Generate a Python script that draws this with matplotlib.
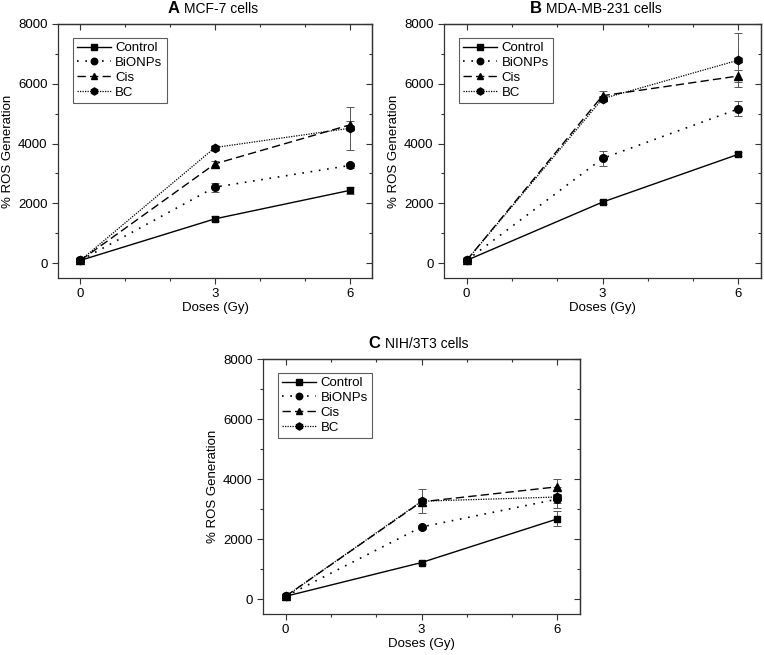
import matplotlib
matplotlib.use("Agg")
import matplotlib.pyplot as plt
from matplotlib.ticker import MultipleLocator

plt.rcParams['font.family'] = ['Liberation Sans', 'DejaVu Sans']

doses = [0, 3, 6]
groups = ["Control", "BiONPs", "Cis", "BC"]

# panel A - MCF-7
mcf_mean = {
    "Control": [90, 1480, 2430],
    "BiONPs": [90, 2540, 3265],
    "Cis": [90, 3320, 4620],
    "BC": [90, 3866, 4510],
}
mcf_err = {
    "Control": [40, 80, 120],
    "BiONPs": [40, 150, 80],
    "Cis": [40, 80, 150],
    "BC": [40, 60, 725],
}

# panel B - MDA-MB-231
mda_mean = {
    "Control": [90, 2040, 3640],
    "BiONPs": [90, 3500, 5160],
    "Cis": [90, 5600, 6260],
    "BC": [90, 5500, 6790],
}
mda_err = {
    "Control": [40, 60, 70],
    "BiONPs": [40, 240, 250],
    "Cis": [40, 170, 200],
    "BC": [40, 80, 900],
}

# panel C - NIH/3T3
nih_mean = {
    "Control": [90, 1215, 2670],
    "BiONPs": [90, 2400, 3330],
    "Cis": [90, 3240, 3740],
    "BC": [90, 3260, 3400],
}
nih_err = {
    "Control": [40, 60, 250],
    "BiONPs": [40, 80, 120],
    "Cis": [40, 100, 250],
    "BC": [40, 400, 350],
}

styles = {
    "Control": dict(ls="-", marker="s", ms=5, lw=1.0),
    "BiONPs": dict(ls=(0, (1, 4)), marker="o", ms=5.5, lw=1.2),
    "Cis": dict(ls=(0, (6, 3)), marker="^", ms=5.5, lw=1.0),
    "BC": dict(ls=(0, (1, 1)), marker="h", ms=6, lw=0.9),
}

panels = [
    ("A", "MCF-7 cells", mcf_mean, mcf_err, [58, 24, 372, 278], 0.35),
    ("B", "MDA-MB-231 cells", mda_mean, mda_err, [444, 24, 761, 278], 0.27),
    ("C", "NIH/3T3 cells", nih_mean, nih_err, [263, 359, 580, 614], 0.333),
]

W, H = 764, 655
fig = plt.figure(figsize=(W / 100, H / 100), dpi=100)
ink = "#333333"

for letter, title, means, errs, box, tx in panels:
    l, t, r, b = box
    ax = fig.add_axes([l / W, 1 - b / H, (r - l) / W, (b - t) / H])
    handles = []
    for g in groups:
        st = styles[g]
        cont = ax.errorbar(doses, means[g], yerr=errs[g], color="black", ecolor="#555555",
                           elinewidth=0.7, capsize=3, capthick=0.7, label=g,
                           linestyle=st["ls"], marker=st["marker"], ms=st["ms"], lw=st["lw"])
        handles.append(cont[0])
    ax.set_xlim(-0.5, 6.5)
    ax.set_ylim(-500, 8000)
    ax.set_xticks(doses)
    ax.set_yticks([0, 2000, 4000, 6000, 8000])
    ax.xaxis.set_minor_locator(MultipleLocator(1))
    ax.yaxis.set_minor_locator(MultipleLocator(1000))
    ax.tick_params(which="both", direction="out", labelsize=9.5, width=0.8, color=ink)
    ax.tick_params(which="major", length=4)
    ax.tick_params(which="minor", length=2.5)
    for sp in ax.spines.values():
        sp.set_linewidth(0.9)
        sp.set_color(ink)

    # mirrored ticks pointing inward on top and right
    top = ax.secondary_xaxis("top")
    top.set_xticks(doses)
    top.xaxis.set_minor_locator(MultipleLocator(1))
    top.tick_params(which="both", direction="in", labeltop=False, width=0.8, color=ink)
    top.tick_params(which="major", length=4)
    top.tick_params(which="minor", length=2.5)
    top.spines["top"].set_linewidth(0.9)
    top.spines["top"].set_color(ink)
    right = ax.secondary_yaxis("right")
    right.set_yticks([0, 2000, 4000, 6000, 8000])
    right.yaxis.set_minor_locator(MultipleLocator(1000))
    right.tick_params(which="both", direction="in", labelright=False, width=0.8, color=ink)
    right.tick_params(which="major", length=4)
    right.tick_params(which="minor", length=2.5)
    right.spines["right"].set_linewidth(0.9)
    right.spines["right"].set_color(ink)

    ax.set_xlabel("Doses (Gy)", fontsize=9.5, labelpad=1)
    ax.set_ylabel("% ROS Generation", fontsize=9.5, labelpad=3)
    # titles: bold letter + plain text
    tl = ax.text(tx, 1.03, letter, transform=ax.transAxes, fontsize=12,
                 fontweight="bold", ha="left", va="bottom")
    ax.annotate(title, xy=(1, 0), xycoords=tl, xytext=(3, 0),
                textcoords="offset points", fontsize=10, ha="left", va="bottom")
    leg = ax.legend(handles=handles, labels=groups, loc="upper left",
                    bbox_to_anchor=(0.048, 0.945), fontsize=9.5,
                    frameon=True, fancybox=False, edgecolor=ink,
                    handlelength=2.6, handletextpad=0.3, borderpad=0.3,
                    labelspacing=0.2, borderaxespad=0, markerscale=0.85)
    leg.get_frame().set_linewidth(0.8)

fig.savefig("out.png", dpi=100)
